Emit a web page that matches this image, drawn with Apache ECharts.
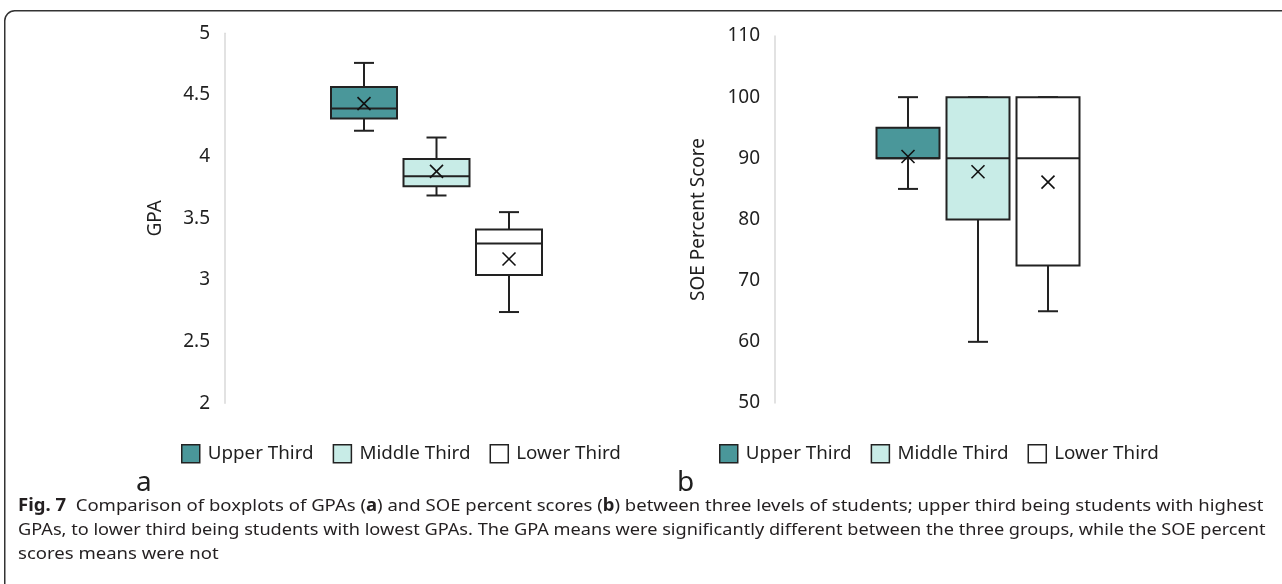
<!DOCTYPE html>
<html>
<head>
<meta charset="utf-8">
<script src="https://cdn.jsdelivr.net/npm/echarts@6/dist/echarts.min.js"></script>
<style>
html,body{margin:0;padding:0;background:#fff;}
#c{width:1282px;height:584px;}
</style>
</head>
<body>
<div id="c"></div>
<script>
// ---- data ----
var groups = ['Upper Third', 'Middle Third', 'Lower Third'];
var groupColors = ['#4A979A', '#C8ECE7', '#FFFFFF'];
// [min, q1, median, q3, max, mean]
var gpaUpper  = [4.21, 4.31, 4.39, 4.565, 4.76, 4.43];
var gpaMiddle = [3.685, 3.76, 3.84, 3.98, 4.155, 3.88];
var gpaLower  = [2.74, 3.04, 3.295, 3.41, 3.55, 3.17];
var soeUpper  = [85, 90, 90, 95, 100, 90.3];
var soeMiddle = [60, 80, 90, 100, 100, 87.8];
var soeLower  = [65, 72.5, 90, 100, 100, 86.1];
var gpaTicks = {min: 2, max: 5, interval: 0.5};
var soeTicks = {min: 50, max: 110, interval: 10};

var FONT = 'Noto Sans';
var INK = '#1f1f1f';

function makeRender(boxW, capW) {
  return function (params, api) {
    var x = api.value(0);
    var pMin = api.coord([x, api.value(1)]);
    var pQ1 = api.coord([x, api.value(2)]);
    var pMed = api.coord([x, api.value(3)]);
    var pQ3 = api.coord([x, api.value(4)]);
    var pMax = api.coord([x, api.value(5)]);
    var pMean = api.coord([x, api.value(6)]);
    var cx = pMin[0];
    var fill = api.visual('color');
    var ls = {stroke: '#222', lineWidth: 2};
    var h = boxW / 2, c = capW / 2, m = 6.5;
    var kids = [
      {type: 'line', shape: {x1: cx, y1: pMax[1], x2: cx, y2: pQ3[1]}, style: ls},
      {type: 'line', shape: {x1: cx, y1: pQ1[1], x2: cx, y2: pMin[1]}, style: ls},
      {type: 'line', shape: {x1: cx - c, y1: pMax[1], x2: cx + c, y2: pMax[1]}, style: ls},
      {type: 'line', shape: {x1: cx - c, y1: pMin[1], x2: cx + c, y2: pMin[1]}, style: ls},
      {type: 'rect', shape: {x: cx - h, y: pQ3[1], width: boxW, height: pQ1[1] - pQ3[1]},
        style: {fill: fill, stroke: '#222', lineWidth: 2}},
      {type: 'line', shape: {x1: cx - h, y1: pMed[1], x2: cx + h, y2: pMed[1]}, style: ls},
      {type: 'line', shape: {x1: cx - m, y1: pMean[1] - m, x2: cx + m, y2: pMean[1] + m}, style: {stroke: '#111', lineWidth: 1.6}},
      {type: 'line', shape: {x1: cx - m, y1: pMean[1] + m, x2: cx + m, y2: pMean[1] - m}, style: {stroke: '#111', lineWidth: 1.6}}
    ];
    return {type: 'group', children: kids};
  };
}

function boxSeries(name, idx, vals, gridIdx, boxW) {
  return {
    type: 'custom',
    name: name,
    xAxisIndex: gridIdx,
    yAxisIndex: gridIdx,
    itemStyle: {color: groupColors[idx]},
    renderItem: makeRender(boxW, 20),
    encode: {x: 0, y: [1, 2, 3, 4, 5, 6]},
    data: [[idx].concat(vals)],
    silent: true
  };
}

function legendData() {
  return groups.map(function (g, i) {
    return {name: g, icon: 'rect', itemStyle: {color: groupColors[i], borderColor: '#222', borderWidth: 1.5}};
  });
}

function yAxis(gridIdx, t, offset, name, gap) {
  return {
    type: 'value', gridIndex: gridIdx, min: t.min, max: t.max, interval: t.interval,
    offset: offset,
    name: name, nameLocation: 'middle', nameGap: gap,
    nameTextStyle: {fontFamily: FONT, fontSize: 19, color: INK},
    axisLine: {show: true, lineStyle: {color: '#d9d9d9', width: 1.5}},
    axisTick: {show: false},
    splitLine: {show: false},
    axisLabel: {fontFamily: FONT, fontSize: 19, color: INK, margin: 15}
  };
}

function xAxis(gridIdx) {
  return {
    type: 'category', gridIndex: gridIdx, data: groups,
    axisLine: {show: false}, axisTick: {show: false}, axisLabel: {show: false}, splitLine: {show: false}
  };
}

function legend(left) {
  return {left: left, top: 444, padding: 0, itemWidth: 18, itemHeight: 18, itemGap: 19, selectedMode: false,
    textStyle: {fontFamily: FONT, fontSize: 18.8, color: INK, padding: [5, 0, 0, 3]}, data: legendData()};
}

var chart = echarts.init(document.getElementById('c'), null, {renderer: 'canvas'});
var caption1 = '{b|Fig. 7}  Comparison of boxplots of GPAs ({b|a}) and SOE percent scores ({b|b}) between three levels of students; upper third being students with highest';
var caption2 = 'GPAs, to lower third being students with lowest GPAs. The GPA means were significantly different between the three groups, while the SOE percent';
var caption3 = 'scores means were not';
var CAP = 17;
function capStyle(t, rich) {
  var s = {text: t, fontFamily: FONT, fontSize: CAP, fill: '#231f20'};
  if (rich) s.rich = rich;
  return s;
}

chart.setOption({
  animation: false,
  backgroundColor: '#fff',
  grid: [
    {left: 327.75, width: 217.5, top: 33.3, height: 370},
    {left: 873, width: 210, top: 36, height: 367}
  ],
  xAxis: [xAxis(0), xAxis(1)],
  yAxis: [yAxis(0, gpaTicks, 102.75, 'GPA', 60), yAxis(1, soeTicks, 98, 'SOE Percent Score', 67)],
  legend: [legend(181), legend(719)],
  series: [
    boxSeries(groups[0], 0, gpaUpper, 0, 66),
    boxSeries(groups[1], 1, gpaMiddle, 0, 66),
    boxSeries(groups[2], 2, gpaLower, 0, 66),
    boxSeries(groups[0], 0, soeUpper, 1, 63),
    boxSeries(groups[1], 1, soeMiddle, 1, 63),
    boxSeries(groups[2], 2, soeLower, 1, 63)
  ],
  graphic: [
    {type: 'rect', silent: true, left: 4, top: 10,
      shape: {width: 1320, height: 620, r: 10},
      style: {fill: 'transparent', stroke: '#333', lineWidth: 1.5}},
    {type: 'text', left: 136, top: 469, style: {text: 'a', fontFamily: FONT, fontSize: 28, fill: INK}},
    {type: 'text', left: 677, top: 469, style: {text: 'b', fontFamily: FONT, fontSize: 28, fill: INK}},
    {type: 'text', x: 18, y: 498, scaleX: 1.09, style: capStyle(caption1, {b: {fontFamily: FONT, fontSize: CAP, fontWeight: 'bold', fill: '#231f20'}})},
    {type: 'text', x: 18, y: 522, scaleX: 1.068, style: capStyle(caption2)},
    {type: 'text', x: 18, y: 546, scaleX: 1.09, style: capStyle(caption3)}
  ]
});
</script>
</body>
</html>
